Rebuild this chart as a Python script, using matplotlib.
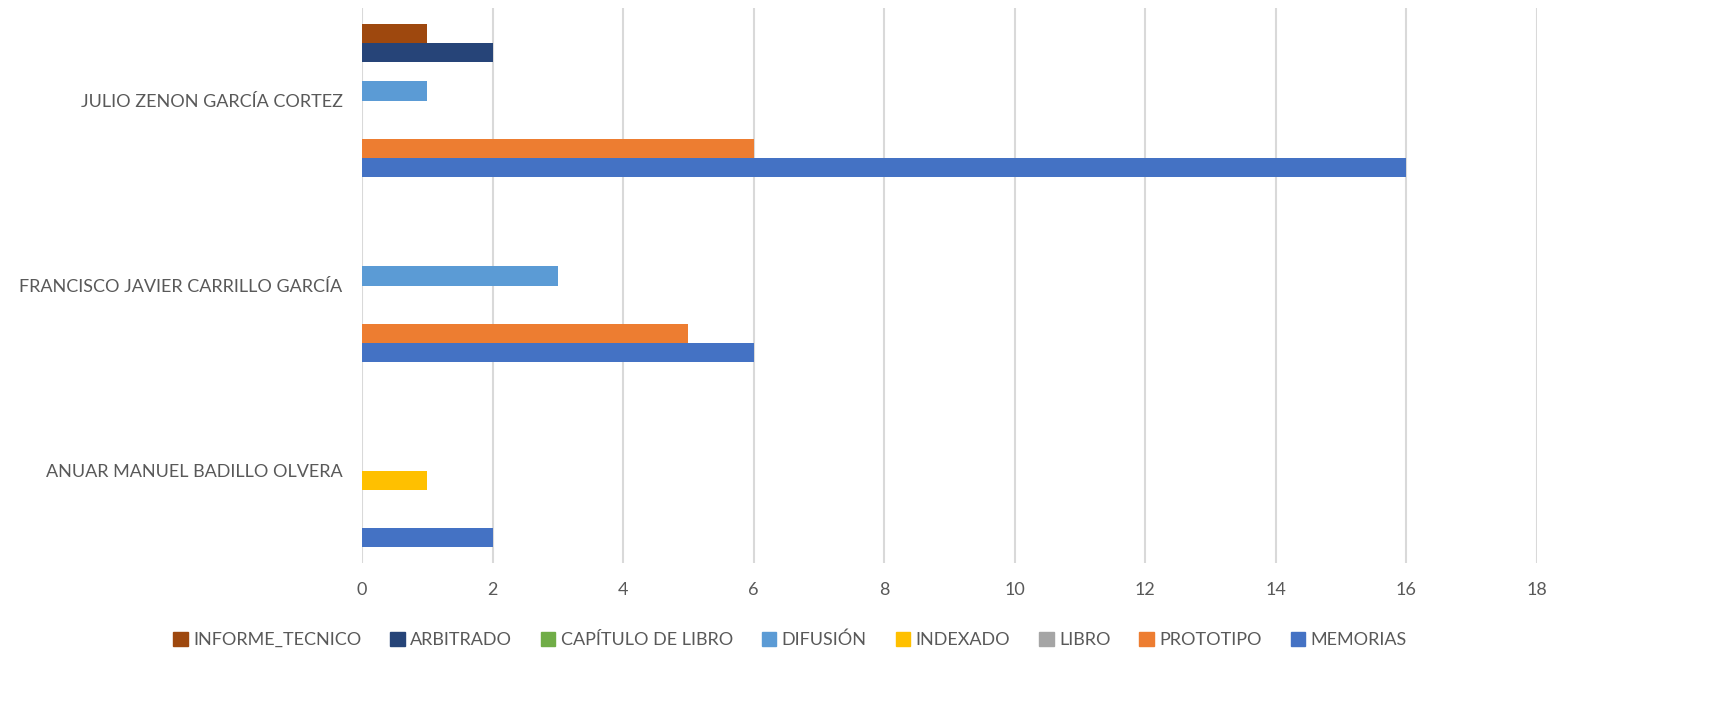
import matplotlib
matplotlib.use("Agg")
import matplotlib.pyplot as plt
import numpy as np
from matplotlib.patches import Patch

categories = ["ANUAR MANUEL BADILLO OLVERA", "FRANCISCO JAVIER CARRILLO GARCÍA", "JULIO ZENON GARCÍA CORTEZ"]
series_names = ["MEMORIAS", "PROTOTIPO", "LIBRO", "INDEXADO", "DIFUSIÓN", "CAPÍTULO DE LIBRO", "ARBITRADO", "INFORME_TECNICO"]
memorias = [2, 6, 16]
prototipo = [0, 5, 6]
libro = [0, 0, 0]
indexado = [1, 0, 0]
difusion = [0, 3, 1]
capitulo = [0, 0, 0]
arbitrado = [0, 0, 2]
informe = [0, 0, 1]
values = [memorias, prototipo, libro, indexado, difusion, capitulo, arbitrado, informe]
colors = ["#4472C4", "#ED7D31", "#A5A5A5", "#FFC000", "#5B9BD5", "#70AD47", "#264478", "#9E480E"]
xticks = [0, 2, 4, 6, 8, 10, 12, 14, 16, 18]

plt.rcParams['font.family'] = ['Lato', 'DejaVu Sans']
fig = plt.figure(figsize=(17.19, 7.2), dpi=100)
ax = fig.add_axes([362/1719, 1-563/720, (1537-362)/1719, (563-8)/720])

n = len(series_names)
slot = 0.103
y = np.arange(len(categories))
for i, (name, vals, c) in enumerate(zip(series_names, values, colors)):
    offs = (i - (n - 1) / 2) * slot
    ax.barh(y + offs, vals, height=slot, color=c, label=name, zorder=3)

ax.set_xlim(0, 18)
ax.set_ylim(-0.5, 2.5)
ax.set_xticks(xticks)
ax.set_yticks(y)
ax.set_yticklabels(categories)
ax.grid(axis='x', color='#D9D9D9', linewidth=1.5, zorder=0)
for s in ax.spines.values():
    s.set_visible(False)
ax.tick_params(axis='both', length=0, labelcolor='#595959', labelsize=13)
ax.tick_params(axis='x', pad=14)
ax.tick_params(axis='y', pad=14)

handles = [Patch(color=colors[i], label=series_names[i]) for i in range(n - 1, -1, -1)]
fig.legend(handles=handles, loc='center', bbox_to_anchor=(790/1719, 1-640/720), ncol=n,
           frameon=False, fontsize=13, labelcolor='#595959', handlelength=0.8, handleheight=0.8,
           handletextpad=0.3, columnspacing=1.6)
fig.savefig("out.png", dpi=100)
